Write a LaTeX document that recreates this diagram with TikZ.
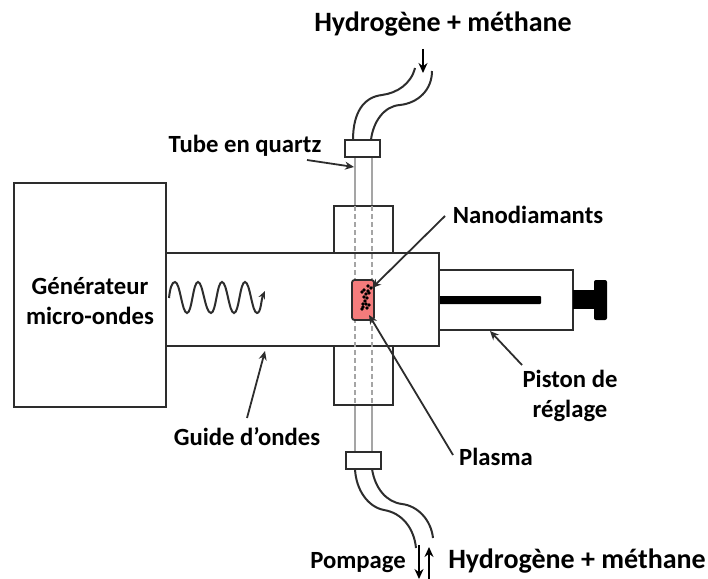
\documentclass[tikz,border=0pt]{standalone}
\usepackage{fontspec}
\setmainfont{Carlito}
\usetikzlibrary{arrows.meta, positioning}
\definecolor{plasmared}{RGB}{244, 124, 124}
\definecolor{tubegray}{RGB}{165, 165, 165}
\definecolor{linegray}{RGB}{45, 45, 45}
\tikzset{
  every node/.style={font=\fontsize{24.7}{30}\selectfont\bfseries, align=center, inner sep=0pt},
  part/.style={draw=linegray, line width=2pt, fill=white},
  tube/.style={draw=tubegray, line width=2pt},
  hose/.style={draw=linegray, line width=2pt},
  callout/.style={-{Stealth[length=9pt,width=8pt]}, line width=1.8pt, draw=linegray},
  flow/.style={-{Stealth[length=10pt,width=9pt]}, line width=1.4pt, draw=black},
  bigtext/.style={font=\fontsize{28}{34}\selectfont\bfseries}
}

\begin{document}
\begin{tikzpicture}[x=1pt, y=-1pt]
  \useasboundingbox (0,0) rectangle (708,578);
  % tube
  \draw[tube] (355,157) -- (355,206) (372,157) -- (372,206);
  \draw[tube] (355,405) -- (355,452) (372,405) -- (372,452);
  % piston
  \draw[part] (439,270) -- (573,270) -- (573,330) -- (439,330);
  \fill[black, rounded corners=1pt] (439,296) rectangle (541,304);
  \fill[black] (573,290) rectangle (595,309);
  \fill[black, rounded corners=2pt] (594,280) rectangle (607,320);
  % stubs and guide
  \draw[part] (334,253) -- (334,206) -- (393,206) -- (393,253);
  \draw[part] (334,346) -- (334,405) -- (393,405) -- (393,346);
  \draw[part] (166,253) -- (439,253) -- (439,346) -- (166,346) -- cycle;
  \draw[tube, dashed, dash pattern=on 5pt off 3pt] (355,206) -- (355,405) (372,206) -- (372,405);
  \node[part, minimum width=152pt, minimum height=224pt] (generator) at (90,295) {};
  \node (generatorLabel) at (90,301) {Générateur\\micro-ondes};
  % caps
  \node[part, minimum width=35pt, minimum height=17pt] (capTop) at (362.5,148.5) {};
  \node[part, minimum width=35pt, minimum height=17pt] (capBottom) at (363.5,460.5) {};
  % hoses
  \draw[hose] (353,140) .. controls (353,112) and (364,97) .. (382,95) .. controls (397,93) and (411,84) .. (415,68);
  \draw[hose] (371,140) .. controls (373,122) and (384,106) .. (400,105) .. controls (418,103) and (432,90) .. (432,71);
  \draw[hose] (355,469) .. controls (356,490) and (368,507) .. (384,510) .. controls (402,513) and (414,528) .. (416,548);
  \draw[hose] (372,469) .. controls (375,488) and (386,502) .. (402,504) .. controls (418,506) and (431,520) .. (433,538);
  % plasma
  \node[draw=linegray, line width=1.8pt, fill=plasmared, rounded corners=2.5pt, minimum width=22pt, minimum height=40pt] (plasmaZone) at (363,300) {};
  \foreach \px/\py in {368/286, 371/288, 364/290, 368/291, 362/292, 366/294, 369/293, 364/297, 367/298, 365/301, 363/304, 366/304, 369/305, 363/307, 367/308, 362/309}
    \fill[black] (\px,\py) circle (1.8pt);
  % wave
  \coordinate (waveStart) at (169,298);
  \coordinate (waveEnd) at (265,291);
  \draw[-{Stealth[length=8pt,width=7pt]}, line width=2pt, draw=linegray] (waveStart)
    .. controls (170,288) and (172,282) .. (175,282)
    .. controls (180,282) and (182,313) .. (187,313)
    .. controls (192,313) and (193,282) .. (198,282)
    .. controls (203,282) and (205,313) .. (211,313)
    .. controls (216,313) and (217,282) .. (222,282)
    .. controls (227,282) and (229,313) .. (234,313)
    .. controls (239,313) and (240,282) .. (245,282)
    .. controls (250,282) and (252,313) .. (257,313)
    .. controls (261,313) and (261,300) .. (waveEnd);
  % labels
  \node[bigtext] (gasTop) at (443,24) {Hydrogène + méthane};
  \node[bigtext] (gasBottom) at (577,561) {Hydrogène + méthane};
  \node (pompage) at (358,563) {Pompage};
  \node (quartz) at (245,146) {Tube en quartz};
  \node (nano) at (528,215) {Nanodiamants};
  \node (plasmaLabel) at (496,457) {Plasma};
  \node (guide) at (247,437) {Guide d’ondes};
  \node (piston) at (570,396) {Piston de\\réglage};
  % callouts
  \coordinate (quartzStart) at (307,160);
  \coordinate (quartzTip) at (354,167);
  \coordinate (nanoStart) at (445,216);
  \coordinate (nanoTip) at (372,288);
  \coordinate (plasmaStart) at (453,455);
  \coordinate (plasmaTip) at (369,315);
  \coordinate (guideStart) at (247,418);
  \coordinate (guideTip) at (265,351);
  \coordinate (pistonStart) at (522,365);
  \coordinate (pistonTip) at (490,331);
  \draw[callout] (quartzStart) -- (quartzTip);
  \draw[callout] (nanoStart) -- (nanoTip);
  \draw[callout] (plasmaStart) -- (plasmaTip);
  \draw[callout] (guideStart) -- (guideTip);
  \draw[callout] (pistonStart) -- (pistonTip);
  % gas flow
  \coordinate (inStart) at (423,49);
  \coordinate (inTip) at (423,73);
  \coordinate (outStart) at (419,545);
  \coordinate (outTip) at (419,579);
  \coordinate (backStart) at (429,579);
  \coordinate (backTip) at (429,547);
  \draw[flow] (inStart) -- (inTip);
  \draw[flow] (outStart) -- (outTip);
  \draw[flow] (backStart) -- (backTip);
\end{tikzpicture}
\end{document}
